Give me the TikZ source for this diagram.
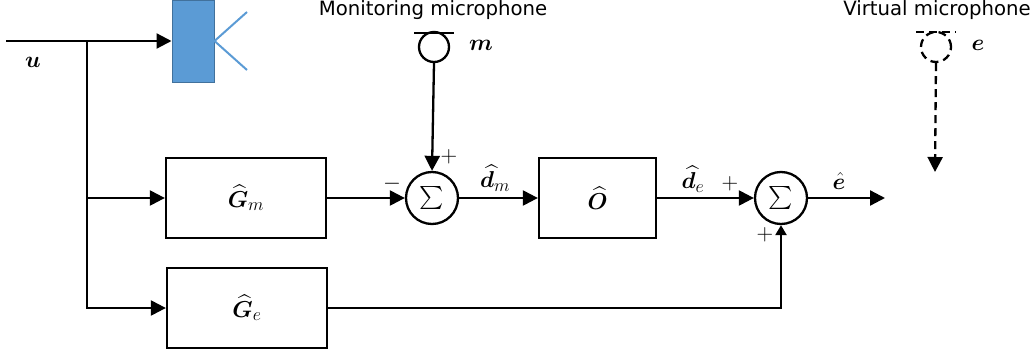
\RequirePackage{fix-cm}
\documentclass[tikz,border=0pt]{standalone}
\usepackage{amsmath,amssymb}
\usepackage{bm}
\usepackage{fontspec}
\setmainfont{DejaVu Sans}
\DeclareMathSizes{23}{23}{18}{13}
\usetikzlibrary{arrows.meta,calc}
\definecolor{spkfill}{HTML}{5B9BD5}
\definecolor{spkline}{HTML}{41719C}
\tikzset{
  x=1pt,y=-1pt,
  blockbox/.style={draw=black,line width=2.3pt,minimum width=160pt,minimum height=80pt,inner sep=0pt,font=\fontsize{23}{27}\selectfont},
  sumcircle/.style={circle,draw=black,line width=2.3pt,minimum size=52pt,inner sep=0pt,font=\fontsize{23}{27}\selectfont},
  micircle/.style={circle,draw=black,line width=2.3pt,minimum size=30pt,inner sep=0pt},
  conn/.style={line width=2.3pt,-{Triangle[length=15pt,width=15pt]}},
  plain/.style={line width=2.3pt},
  dashline/.style={dash pattern=on 8pt off 5pt},
  lab/.style={inner sep=0pt,font=\fontsize{23}{27}\selectfont},
  signlab/.style={inner sep=0pt,font=\fontsize{23}{27}\selectfont},
  caption/.style={inner sep=0pt,font=\fontsize{19.7}{23}\selectfont},
}
\begin{document}
\begin{tikzpicture}
\useasboundingbox (0,0) rectangle (1034,356);
% speaker
\node[draw=spkline,fill=spkfill,minimum width=42pt,minimum height=82pt,inner sep=0pt,line width=1pt] (spk) at (193,41) {};
\coordinate (coneA) at (247,12);
\coordinate (coneB) at (247,70);
\draw[spkfill,line width=2pt] (coneA) -- (spk.east) -- (coneB);
% blocks
\node[blockbox] (gm) at (246,198) {$\bm{\widehat{G}}_{m}$};
\node[blockbox] (ge) at (247,308) {$\bm{\widehat{G}}_{e}$};
\node[blockbox,minimum width=117pt] (o) at (597.5,198) {$\bm{\widehat{O}}$};
\node[sumcircle] (s1) at (432,198) {$\sum$};
\node[sumcircle] (s2) at (781,198) {$\sum$};
% microphones
\node[micircle] (mm) at (434,47) {};
\coordinate (mbarL) at (414,33);
\coordinate (mbarR) at (454,33);
\draw[plain] (mbarL) -- (mbarR);
\node[micircle,dashline] (ve) at (936,47) {};
\coordinate (vbarL) at (916,32);
\coordinate (vbarR) at (956,32);
\draw[plain,dashline] (vbarL) -- (vbarR);
% free ends
\coordinate (uin) at (6,41);
\coordinate (j1) at (87,41);
\coordinate (j2) at (87,198);
\coordinate (j3) at (87,308);
\coordinate (vend) at (935,172);
\coordinate (eout) at (885,198);
% connectors
\draw[conn] (uin) -- (spk.west);
\draw[plain] (j1) -- (j2);
\draw[conn] (j2) -- (gm.west);
\draw[conn] (j2) -- (j3) -- (ge.west);
\draw[conn] (gm.east) -- (s1.west);
\draw[conn] (s1.east) -- (o.west);
\draw[conn] (o.east) -- (s2.west);
\draw[conn] (s2.east) -- (eout);
\draw[conn] (mm.south) -- (s1.north);
\draw[line width=2.3pt,-{Triangle[length=10pt,width=11pt]}] (ge.east) -| (s2.south);
\draw[conn,dashline] (ve.south) -- (vend);
% labels
\node[lab] (lu) at (33,62) {$\bm{u}$};
\node[lab] (lm) at (481,45) {$\bm{m}$};
\node[lab] (le) at (978,45) {$\bm{e}$};
\node[caption] (capm) at (433,10) {Monitoring microphone};
\node[caption,anchor=east] (cape) at (1031,10) {Virtual microphone};
\node[lab] (ldm) at (495,178) {$\bm{\widehat{d}}_{m}$};
\node[lab] (lde) at (693,179) {$\bm{\widehat{d}}_{e}$};
\node[lab] (leh) at (839,181) {$\bm{\hat{e}}$};
\node[signlab] (p1) at (449,157) {$+$};
\node[signlab] (m1) at (392,184) {$-$};
\node[signlab] (p2) at (730,184) {$+$};
\node[signlab] (p3) at (765,235) {$+$};
\end{tikzpicture}
\end{document}
